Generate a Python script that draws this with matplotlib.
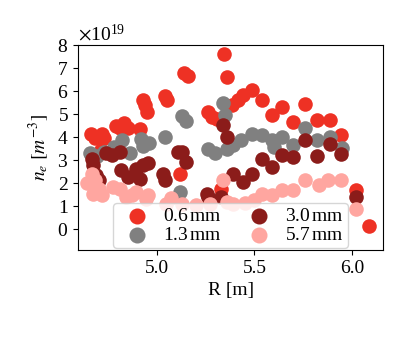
import numpy as np
import matplotlib
matplotlib.use('Agg')
import matplotlib.pyplot as plt

plt.rcParams['font.family'] = ['Liberation Serif', 'DejaVu Serif']
plt.rcParams['mathtext.fontset'] = 'stix'
plt.rcParams['font.size'] = 14

# 0.6 mm
r_06 = [4.66, 4.68, 4.71, 4.72, 4.73, 4.79, 4.81, 4.83, 4.85, 4.91, 4.93, 4.94,
        4.95, 5.04, 5.05, 5.12, 5.14, 5.16, 5.26, 5.28, 5.31, 5.33, 5.345, 5.357,
        5.383, 5.417, 5.44, 5.486, 5.537, 5.588, 5.64, 5.70, 5.76, 5.82, 5.887,
        5.947, 6.024, 6.089]
n_06 = [4.13, 3.98, 3.43, 4.15, 3.97, 4.50, 4.40, 4.60, 4.40, 4.35, 5.60, 5.40,
        5.10, 5.80, 5.60, 2.42, 6.77, 6.67, 5.10, 4.88, 4.81, 1.77, 7.60, 6.62,
        5.39, 5.60, 5.83, 6.04, 5.60, 4.96, 5.32, 4.67, 5.43, 4.74, 4.74,
        4.09, 1.70, 0.14]

# 1.3 mm
r_13 = [4.655, 4.67, 4.69, 4.73, 4.78, 4.82, 4.86, 4.92, 4.93, 4.96, 5.04, 5.12,
        5.13, 5.15, 5.26, 5.30, 5.34, 5.35, 5.36, 5.39, 5.43, 5.49, 5.54, 5.59,
        5.60, 5.64, 5.70, 5.76, 5.82, 5.89, 5.95]
n_13 = [3.30, 3.10, 3.20, 3.35, 3.58, 3.87, 3.30, 3.90, 3.60, 3.75, 4.00, 1.60,
        4.90, 4.70, 3.50, 3.30, 5.50, 4.95, 3.50, 3.65, 3.87, 4.16, 4.09, 3.87,
        3.58, 4.01, 3.65, 4.38, 3.87, 4.01, 3.51]

# 3.0 mm
r_30 = [4.664, 4.67, 4.685, 4.70, 4.74, 4.77, 4.81, 4.817, 4.85, 4.894, 4.91,
        4.93, 4.954, 5.03, 5.04, 5.108, 5.127, 5.15, 5.255, 5.263, 5.33, 5.34,
        5.357, 5.39, 5.44, 5.486, 5.537, 5.588, 5.64, 5.70, 5.76, 5.82, 5.887,
        5.947, 6.024]
n_30 = [3.07, 2.78, 2.35, 2.13, 3.30, 3.22, 3.36, 2.57, 2.27, 2.64, 2.20,
        2.78, 2.86, 2.42, 2.13, 3.36, 3.36, 2.93, 1.55, 1.40, 1.40, 4.52,
        4.01, 2.42, 2.06, 2.42, 3.07, 2.71, 3.22, 3.14, 3.87, 3.17, 3.72,
        3.29, 1.40]

# 5.7 mm
r_57 = [4.64, 4.664, 4.68, 4.70, 4.67, 4.72, 4.774, 4.81, 4.843, 4.87, 4.894,
        4.945, 4.954, 5.048, 5.07, 5.13, 5.20, 5.27, 5.34, 5.357, 5.39, 5.45,
        5.50, 5.537, 5.588, 5.64, 5.70, 5.76, 5.83, 5.88, 5.947, 6.024]
n_57 = [1.99, 2.42, 2.13, 1.77, 1.55, 1.48, 1.84, 1.77, 1.40, 1.48, 1.62,
        1.33, 1.48, 1.12, 1.35, 1.10, 1.05, 1.10, 2.13, 1.19, 1.10, 1.15,
        1.26, 1.55, 1.48, 1.70, 1.70, 2.13, 1.91, 2.13, 2.16, 0.90]

series = [
    (r_06, n_06, '#EE3124', r'0.6$\,$mm'),
    (r_13, n_13, '#808080', r'1.3$\,$mm'),
    (r_30, n_30, '#8B1C1A', r'3.0$\,$mm'),
    (r_57, n_57, '#FFA6A0', r'5.7$\,$mm'),
]

fig = plt.figure(figsize=(4.07, 3.39), dpi=100)
ax = fig.add_axes([0.192, 0.2625, 0.749, 0.6045])

for r, n, color, label in series:
    ax.scatter(r, np.array(n) * 1e19, s=110, color=color, label=label, linewidths=0)

ax.set_xlim(4.595, 6.16)
ax.set_ylim(-0.9e19, 8e19)
ax.set_xticks([5.0, 5.5, 6.0])
ax.set_yticks(np.arange(0, 9) * 1e19)
ax.ticklabel_format(axis='y', style='sci', scilimits=(0, 0), useMathText=True)

ax.set_xlabel('R [m]')
ax.set_ylabel(r'$n_e\ [m^{-3}]$')

ax.legend(loc='lower center', ncol=2, fontsize=14, handletextpad=0.35,
          columnspacing=0.9, borderpad=0.2, labelspacing=0.1, borderaxespad=0.1,
          markerscale=1.1)

plt.savefig('out.png', dpi=100)
